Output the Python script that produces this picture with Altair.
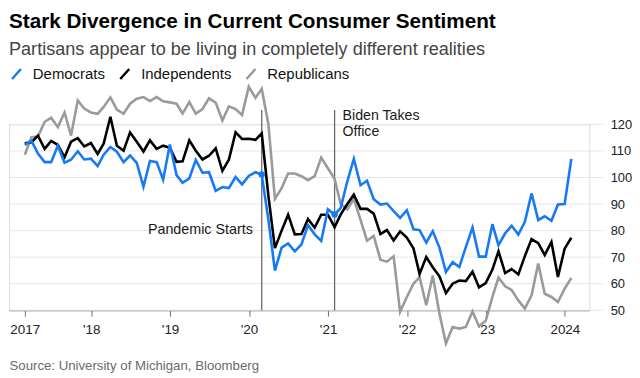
import altair as alt
import pandas as pd

FONT = "Liberation Sans"

# Monthly observations, Feb 2017 - Jan 2024
months = pd.date_range("2017-02-01", "2024-01-01", freq="MS")

democrats = [
    112.3, 113.8, 109.0, 105.8, 105.8, 112.0, 105.6, 106.7, 109.9, 106.8,
    107.1, 104.3, 108.6, 111.5, 109.7, 105.8, 108.3, 105.5, 96.5, 106.2,
    105.8, 99.2, 112.4, 100.9, 98.0, 99.7, 106.6, 101.8, 102.0, 95.0,
    96.4, 96.0, 100.2, 97.4, 100.6, 102.0, 101.1, 84.0, 64.9, 73.6,
    75.2, 72.2, 74.8, 82.1, 78.6, 76.1, 88.0, 86.1, 88.5, 98.6,
    107.0, 97.1, 98.8, 91.8, 89.8, 90.2, 87.3, 84.8, 87.7, 80.5,
    80.2, 75.5, 79.8, 73.6, 64.4, 68.1, 66.3, 73.8, 81.2, 70.2,
    70.2, 82.4, 74.5, 79.0, 81.8, 78.5, 83.3, 94.0, 84.0, 85.4,
    83.7, 89.8, 90.0, 107.0,
]
independents = [
    112.9, 113.3, 115.8, 110.8, 113.8, 112.3, 107.6, 113.5, 114.8, 111.7,
    113.0, 108.9, 112.8, 122.9, 112.0, 110.1, 117.0, 113.5, 109.8, 114.0,
    110.8, 112.0, 111.2, 105.9, 106.1, 114.0, 110.1, 106.8, 108.2, 111.0,
    102.5, 106.7, 117.0, 114.5, 114.6, 114.2, 116.6, 93.0, 73.4, 80.0,
    86.0, 78.6, 78.7, 84.4, 81.1, 86.0, 86.0, 81.3, 86.0, 90.0,
    93.6, 88.2, 88.2, 86.4, 78.7, 80.2, 76.3, 79.7, 77.4, 73.3,
    63.7, 70.0, 66.2, 62.8, 56.5, 60.0, 61.2, 61.0, 64.5, 58.6,
    60.2, 65.3, 72.2, 64.0, 65.5, 63.5, 70.4, 76.8, 75.3, 70.8,
    75.7, 62.5, 73.2, 77.3,
]
republicans = [
    108.6, 115.2, 115.4, 121.0, 122.5, 119.0, 124.5, 115.8, 129.0, 126.0,
    124.5, 124.0, 126.6, 130.2, 125.6, 124.0, 127.8, 129.7, 130.3, 128.8,
    130.3, 128.7, 128.3, 127.8, 124.1, 128.4, 124.1, 125.8, 129.8, 128.2,
    121.5, 126.8, 125.8, 123.5, 134.2, 130.0, 133.4, 120.0, 92.0, 96.0,
    101.5, 101.5, 100.5, 99.0, 100.5, 107.5, 103.5, 99.5, 90.0, 88.0,
    92.0, 84.0, 76.2, 78.0, 69.0, 68.3, 70.3, 49.4, 55.0, 60.0,
    62.5, 51.9, 63.1, 48.8, 37.5, 43.7, 43.1, 43.7, 49.5, 44.0,
    46.0, 55.0, 62.3, 59.0, 57.6, 53.7, 50.6, 55.6, 67.6, 56.2,
    55.0, 53.1, 58.1, 62.2,
]

parties = ["Democrats", "Independents", "Republicans"]
colors = ["#1779f5", "#000000", "#9a9a9a"]
y_ticks = [50, 60, 70, 80, 90, 100, 110, 120]
x_tick_years = [2018, 2019, 2020, 2021, 2022, 2023, 2024]
event_months = ["2020-02", "2021-01"]
event_labels = ["Pandemic Starts", "Biden Takes\nOffice"]

# ---- tables built from the arrays above ----
dates = months + pd.offsets.MonthEnd(0)
series = {"Democrats": democrats, "Independents": independents, "Republicans": republicans}
rows = []
for party in ["Republicans", "Independents", "Democrats"]:
    for d, v in zip(dates, series[party]):
        rows.append({"date": d, "party": party, "value": v})
df = pd.DataFrame(rows)

ev_rows = []
for m, lab in zip(event_months, event_labels):
    d = pd.Period(m, freq="M").to_timestamp() + pd.offsets.MonthEnd(0)
    idx = list(dates).index(d)
    ev_rows.append({"date": d, "label": lab, "value": democrats[idx]})
events = pd.DataFrame(ev_rows)
grid = pd.DataFrame({"v": y_ticks})

first = dates[0]
tick_values = [alt.DateTime(year=first.year, month=first.month, date=first.day)] + [
    alt.DateTime(year=y, month=1, date=1) for y in x_tick_years
]

x_scale = alt.Scale(domain=[alt.DateTime(year=2016, month=12, date=17),
                            alt.DateTime(year=2024, month=4, date=23)])
y_scale = alt.Scale(domain=[50, 120], nice=False, zero=False)

x_axis = alt.Axis(
    values=tick_values,
    labelExpr="(year(datum.value) == 2017 || year(datum.value) == 2024) ? timeFormat(datum.value, '%Y') : \"'\" + timeFormat(datum.value, '%y')",
    grid=False, domainColor="#6e6e6e", domainWidth=1, tickColor="#6e6e6e", tickSize=6,
    labelFontSize=13.5, labelPadding=6, labelColor="#222", labelFont=FONT,
    title="Source: University of Michigan, Bloomberg", titleX=0, titleY=59.5,
    titleAlign="left", titleBaseline="alphabetic", titleFontSize=13.3,
    titleFontWeight="normal", titleColor="#6a6a6a", titleFont=FONT,
)
y_axis = alt.Axis(
    orient="right", values=y_ticks, grid=False, domain=False, ticks=False,
    labelPadding=21, labelFontSize=13, labelColor="#222", labelAlign="left",
    labelBaseline="middle", labelFont=FONT, title=None,
)
color_enc = alt.Color(
    "party:N",
    scale=alt.Scale(domain=parties, range=colors),
    legend=alt.Legend(
        orient="none", legendX=0, legendY=-58.5, direction="horizontal", title=None,
        symbolType="M-0.9,1L0.9,-1", symbolSize=100, symbolStrokeWidth=2.5,
        labelFontSize=15, labelOffset=9, columnPadding=10, padding=0,
        labelFont=FONT, labelColor="#111",
    ),
)

grid_layer = alt.Chart(grid).mark_rule(color="#e6e6e6", strokeWidth=1).encode(
    y=alt.Y("v:Q", scale=y_scale, axis=y_axis),
    x=alt.value(0), x2=alt.value(598),
)

event_rules = alt.Chart(events).mark_rule(color="#6a6a6a", strokeWidth=1.3).encode(
    x=alt.X("date:T", scale=x_scale, axis=x_axis),
    y=alt.value(-14.6), y2=alt.value(187),
)

def line_layer(party):
    return alt.Chart(df).transform_filter(alt.datum.party == party).mark_line(
        strokeWidth=2.6
    ).encode(
        x=alt.X("date:T", scale=x_scale, axis=x_axis),
        y=alt.Y("value:Q", scale=y_scale, axis=y_axis),
        color=color_enc,
    )

dots = alt.Chart(events).mark_circle(size=42, opacity=1, color=colors[0]).encode(
    x=alt.X("date:T", scale=x_scale, axis=x_axis),
    y=alt.Y("value:Q", scale=y_scale, axis=y_axis),
)

pandemic_text = alt.Chart(events).transform_filter(
    alt.datum.label == event_labels[0]
).mark_text(align="right", baseline="middle", dx=-9, fontSize=14.4, font=FONT, color="#1a1a1a").encode(
    x=alt.X("date:T", scale=x_scale, axis=x_axis),
    y=alt.value(106.5),
    text="label:N",
)

biden_text = alt.Chart(events).transform_filter(
    alt.datum.label == event_labels[1]
).mark_text(align="left", baseline="alphabetic", dx=8, fontSize=14.3, font=FONT,
            color="#1a1a1a", lineBreak="\n", lineHeight=16.3).encode(
    x=alt.X("date:T", scale=x_scale, axis=x_axis),
    y=alt.value(-4.9),
    text="label:N",
)

chart = alt.layer(
    grid_layer,
    event_rules,
    line_layer("Republicans"),
    line_layer("Independents"),
    line_layer("Democrats"),
    dots,
    pandemic_text,
    biden_text,
).properties(
    width=584,
    height=187,
    padding={"left": 0, "top": 2, "right": 0, "bottom": 0},
    title=alt.TitleParams(
        text="Stark Divergence in Current Consumer Sentiment",
        subtitle="Partisans appear to be living in completely different realities",
        anchor="start", frame="group", fontSize=20.8, fontWeight="bold", color="#000000",
        font=FONT, subtitleFont=FONT, subtitleFontSize=18.2, subtitleColor="#444444",
        subtitlePadding=7.8, offset=7.3,
    ),
).configure_view(stroke=None).configure(font=FONT)

chart.save("out.html", embed_options={"renderer": "svg", "actions": False})
